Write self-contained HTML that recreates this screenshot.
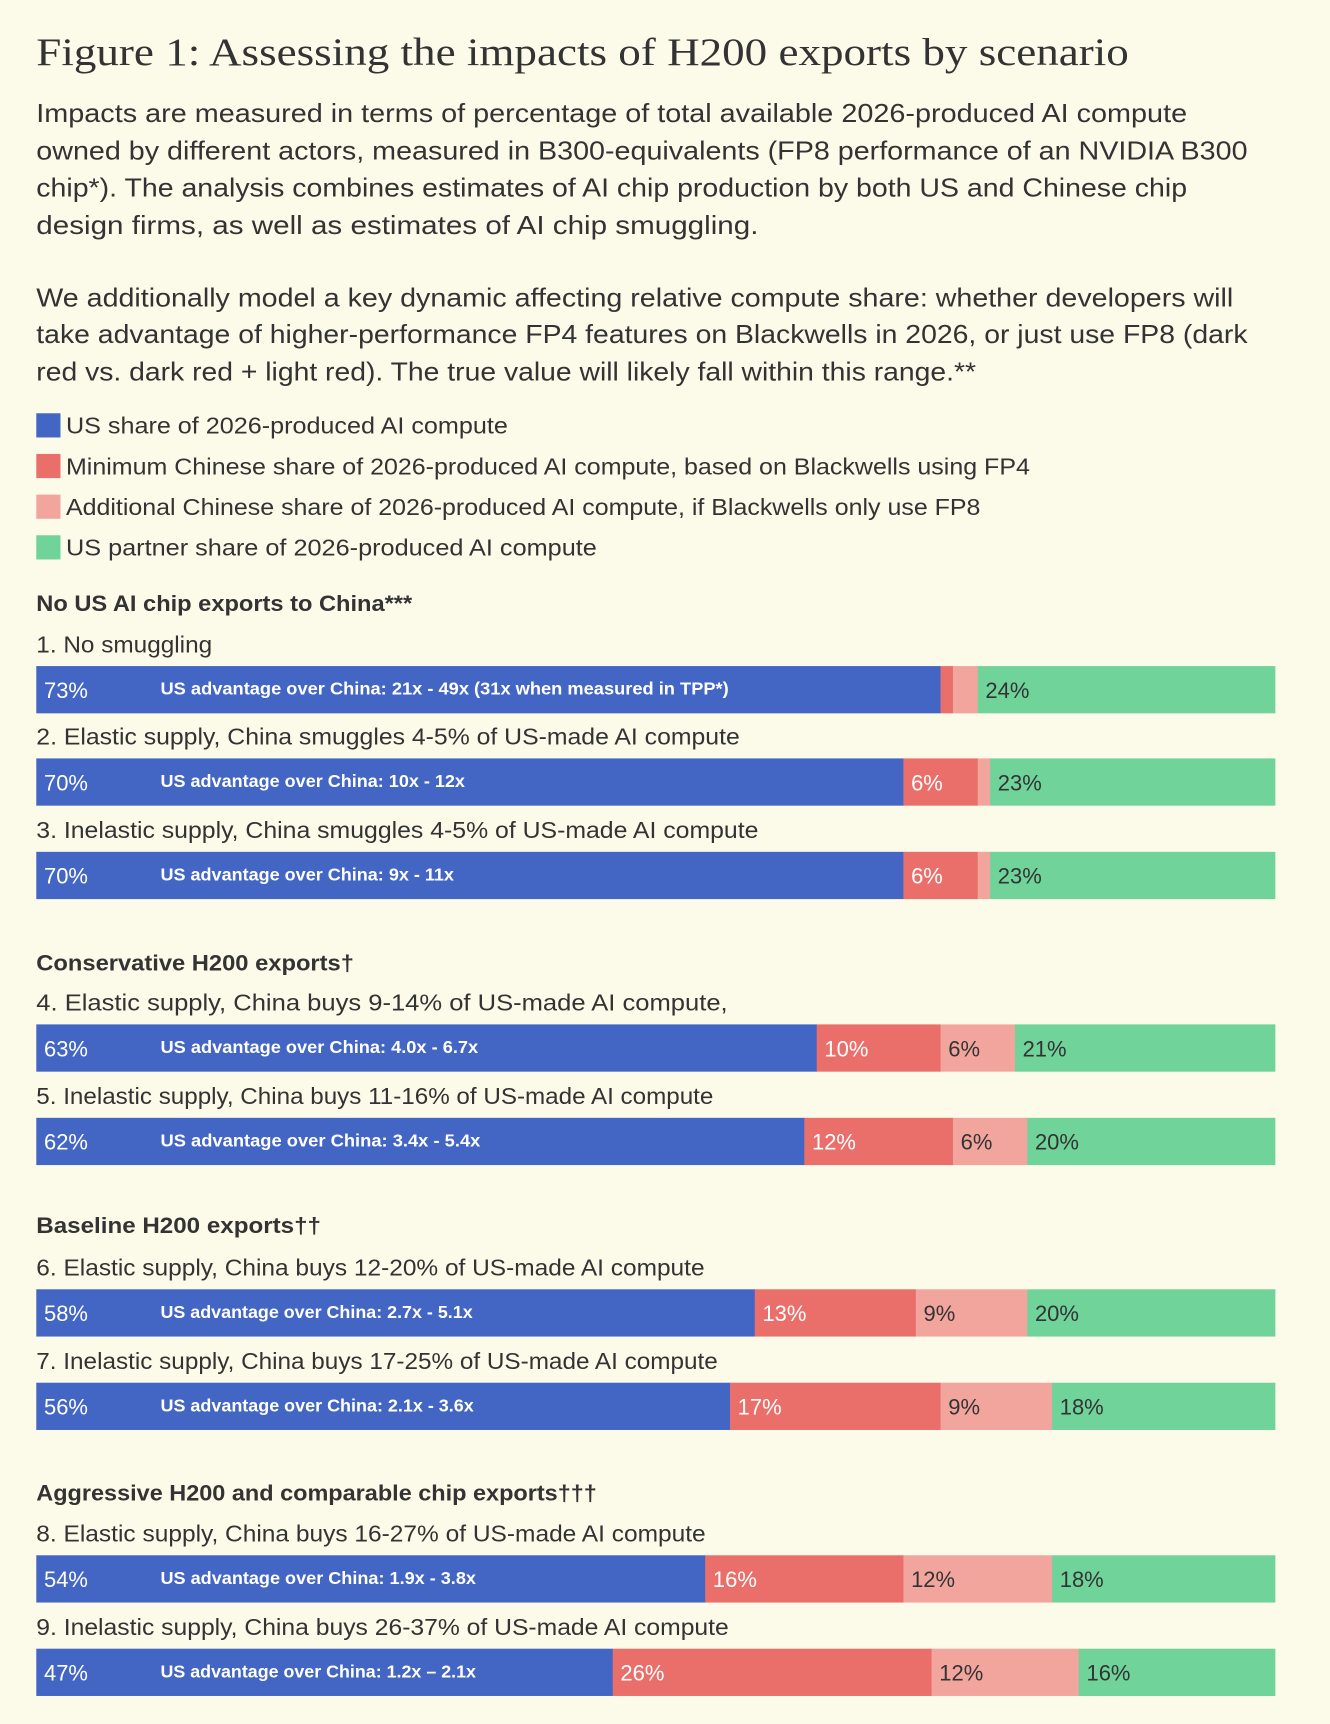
<!DOCTYPE html>
<html><head><meta charset="utf-8"><style>
html,body{margin:0;padding:0;background:#fcfae9;}
svg{display:block;}
text{font-family:"Liberation Sans",sans-serif;fill:#333;}
</style></head><body>
<svg id="fig" width="1330" height="1724" viewBox="0 0 1210 1568.5">
<rect x="0" y="0" width="1210" height="1568.5" fill="#fcfae9"/>
<text x="33" y="59" font-size="36" style="font-family:'Liberation Serif',serif" textLength="994" lengthAdjust="spacingAndGlyphs">Figure 1: Assessing the impacts of H200 exports by scenario</text>
<g font-size="23.5">
<text x="33" y="111" textLength="1047" lengthAdjust="spacingAndGlyphs">Impacts are measured in terms of percentage of total available 2026-produced AI compute</text>
<text x="33" y="145" textLength="1102" lengthAdjust="spacingAndGlyphs">owned by different actors, measured in B300-equivalents (FP8 performance of an NVIDIA B300</text>
<text x="33" y="179" textLength="1047" lengthAdjust="spacingAndGlyphs">chip*). The analysis combines estimates of AI chip production by both US and Chinese chip</text>
<text x="33" y="213" textLength="657" lengthAdjust="spacingAndGlyphs">design firms, as well as estimates of AI chip smuggling.</text>
<text x="33" y="279" textLength="1089" lengthAdjust="spacingAndGlyphs">We additionally model a key dynamic affecting relative compute share: whether developers will</text>
<text x="33" y="312" textLength="1102" lengthAdjust="spacingAndGlyphs">take advantage of higher-performance FP4 features on Blackwells in 2026, or just use FP8 (dark</text>
<text x="33" y="346" textLength="855" lengthAdjust="spacingAndGlyphs">red vs. dark red + light red). The true value will likely fall within this range.**</text>
</g>
<g id="legend" font-size="21"></g>
<g id="rows"></g>
</svg>
<script>
const categories=["1. No smuggling","2. Elastic supply, China smuggles 4-5% of US-made AI compute","3. Inelastic supply, China smuggles 4-5% of US-made AI compute","4. Elastic supply, China buys 9-14% of US-made AI compute,","5. Inelastic supply, China buys 11-16% of US-made AI compute","6. Elastic supply, China buys 12-20% of US-made AI compute","7. Inelastic supply, China buys 17-25% of US-made AI compute","8. Elastic supply, China buys 16-27% of US-made AI compute","9. Inelastic supply, China buys 26-37% of US-made AI compute"];
const usShare=[73,70,70,63,62,58,56,54,47];
const chinaMin=[1,6,6,10,12,13,17,16,26];
const chinaAdd=[2,1,1,6,6,9,9,12,12];
const partnerShare=[24,23,23,21,20,20,18,18,16];
const advantage=["US advantage over China: 21x - 49x (31x when measured in TPP*)","US advantage over China: 10x - 12x","US advantage over China: 9x - 11x","US advantage over China: 4.0x - 6.7x","US advantage over China: 3.4x - 5.4x","US advantage over China: 2.7x - 5.1x","US advantage over China: 2.1x - 3.6x","US advantage over China: 1.9x - 3.8x","US advantage over China: 1.2x – 2.1x"];
const sections=["No US AI chip exports to China***","Conservative H200 exports†","Baseline H200 exports††","Aggressive H200 and comparable chip exports†††"];
const legendLabels=["US share of 2026-produced AI compute","Minimum Chinese share of 2026-produced AI compute, based on Blackwells using FP4","Additional Chinese share of 2026-produced AI compute, if Blackwells only use FP8","US partner share of 2026-produced AI compute"];

const NS="http://www.w3.org/2000/svg";
const colors=["#4366c5","#ea6f6a","#f2a59d","#6fd39a"];
const textCols=["#fff","#fff","#333","#333"];
const legendW=[402,877,832,483];
const catW=[160,640,657,629,616,608,620,609,630];
const advW=[517,277,267,289,291,284,285,287,287];
const secW=[342,289,259,510];
const sectionY=[549,876,1115,1358];
const labelY=[586,670,755,912,997,1153,1238,1395,1480];
const sectionOf=[0,0,0,1,1,2,2,3,3];
function mk(tag,attrs,parent){const e=document.createElementNS(NS,tag);for(const k in attrs)e.setAttribute(k,attrs[k]);parent.appendChild(e);return e;}
const lg=document.getElementById('legend');
legendLabels.forEach((l,i)=>{
  const cy=387+i*37;
  const r=mk('rect',{x:33,y:cy-11,width:22,height:22,fill:colors[i]},lg);
  
  
  const t=mk('text',{x:60,y:cy+7.5,textLength:legendW[i],lengthAdjust:'spacingAndGlyphs'},lg);
  t.textContent=l;
  
  
});
const rows=document.getElementById('rows');
sections.forEach((s,i)=>{
  const t=mk('text',{x:33,y:sectionY[i]+7,'font-size':20,'font-weight':'bold',textLength:secW[i],lengthAdjust:'spacingAndGlyphs'},rows);
  t.textContent=s;
  
  
});
const X0=33,W=1127,BH=43;
function xScale(v,total){return W*v/total;}
categories.forEach((c,i)=>{
  const ly=labelY[i];
  const t=mk('text',{x:33,y:ly+7.5,'font-size':21,textLength:catW[i],lengthAdjust:'spacingAndGlyphs'},rows);
  t.textContent=c;
  
  
  const by=ly+20;
  const vals=[usShare[i],chinaMin[i],chinaAdd[i],partnerShare[i]];
  const total=vals.reduce((a,b)=>a+b,0);
  let x=X0;
  const g=mk('g',{},rows);
  
  
  vals.forEach((v,j)=>{
    const w=xScale(v,total);
    const r=mk('rect',{x:x,y:by,width:w+0.3,height:BH,fill:colors[j]},g);
    
    
    if(v>=3){
      const vt=mk('text',{x:x+7,y:by+29,'font-size':20,fill:textCols[j]},g);
      vt.style.fill=textCols[j];
      vt.textContent=v+'%';
      
      
    }
    x+=w;
  });
  const at=mk('text',{x:146,y:by+26,'font-size':16,'font-weight':'bold',textLength:advW[i],lengthAdjust:'spacingAndGlyphs'},g);
  at.style.fill='#fff';
  at.textContent=advantage[i];
  
  
});
</script>
</body></html>
